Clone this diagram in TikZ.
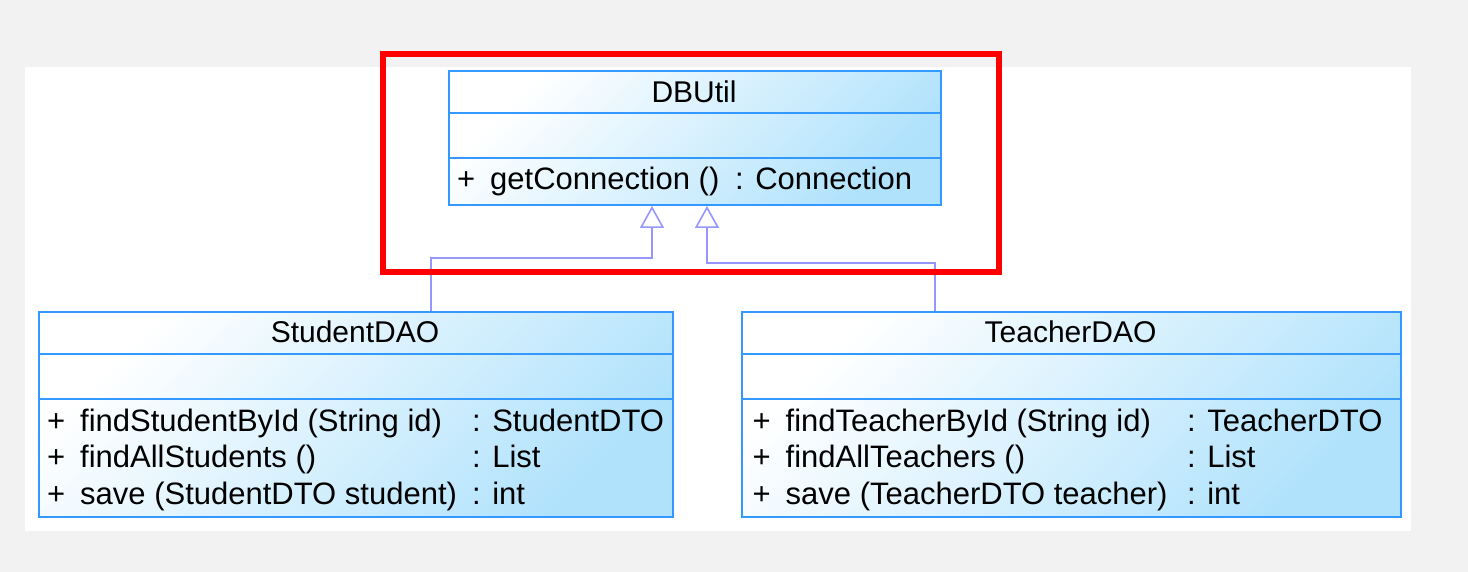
\documentclass[tikz,border=0pt]{standalone}
\usepackage{fontspec}
\setmainfont{Liberation Sans}
\usepackage{tikz}
\usetikzlibrary{arrows.meta}
\definecolor{umlborder}{RGB}{51,153,255}
\definecolor{umlfill}{RGB}{176,226,252}
\definecolor{genline}{RGB}{150,150,255}
\definecolor{panelgray}{RGB}{242,242,242}
\tikzset{
  umlclass/.style={draw=umlborder, line width=2pt, top color=white, bottom color=umlfill,
    shading angle=45, inner sep=0pt, anchor=north west},
  divider/.style={draw=umlborder, line width=2pt},
  classname/.style={anchor=base, inner sep=0pt, font=\fontsize{30}{36}\selectfont},
  oplist/.style={anchor=base west, inner sep=0pt, align=left, font=\fontsize{31}{36.2}\selectfont},
  gen/.style={draw=genline, line width=1.6pt, -{Triangle[open, length=22pt, width=24pt]}},
}

\begin{document}
\begin{tikzpicture}[x=1pt, y=-1pt]
    \useasboundingbox (0,0) rectangle (1468,572);
    \fill[panelgray] (0,0) rectangle (1468,572);
    \fill[white] (25,67) rectangle (1411,531);

    % classes
    \node[umlclass, minimum width=492pt, minimum height=134pt] at (448,70) (dbutil) {};
    \node[umlclass, minimum width=634pt, minimum height=205pt] at (38,311) (student) {};
    \node[umlclass, minimum width=659pt, minimum height=205pt] at (741,311) (teacher) {};

    \foreach \c in {dbutil, student, teacher} {
      \draw[divider] ([yshift=-43pt]\c.north west) -- ([yshift=-43pt]\c.north east);
      \draw[divider] ([yshift=-88pt]\c.north west) -- ([yshift=-88pt]\c.north east);
    }

    \node[classname] at (694,102.7) (dbutilname) {DBUtil};
    \node[oplist] at (457,190) (dbutilvis) {+};
    \node[oplist] at (490,190) (dbutilops) {getConnection ()};
    \node[oplist] at (735,190) (dbutiltypes) {: Connection};

    % multi-line lists sit on the baseline of their last row
    \node[classname] at (355,342.7) (studentname) {StudentDAO};
    \node[oplist] at (47,504) (studentvis) {+\\+\\+};
    \node[oplist] at (80,504) (studentops) {findStudentById (String id)\\findAllStudents ()\\save (StudentDTO student)};
    \node[oplist] at (472,504) (studenttypes) {: StudentDTO\\: List\\: int};

    \node[classname] at (1070.5,342.7) (teachername) {TeacherDAO};
    \node[oplist] at (752.5,504) (teachervis) {+\\+\\+};
    \node[oplist] at (785.5,504) (teacherops) {findTeacherById (String id)\\findAllTeachers ()\\save (TeacherDTO teacher)};
    \node[oplist] at (1187,504) (teachertypes) {: TeacherDTO\\: List\\: int};

    % generalisations
    \draw[gen] ([xshift=75pt]student.north) -- ++(0,-53) -| ([xshift=-43pt]dbutil.south);
    \draw[gen] ([xshift=-136.5pt]teacher.north) -- ++(0,-48) -| ([xshift=12pt]dbutil.south);

    % highlight
    \draw[red, line width=6pt] (383,54) rectangle (999,272);
\end{tikzpicture}
\end{document}
